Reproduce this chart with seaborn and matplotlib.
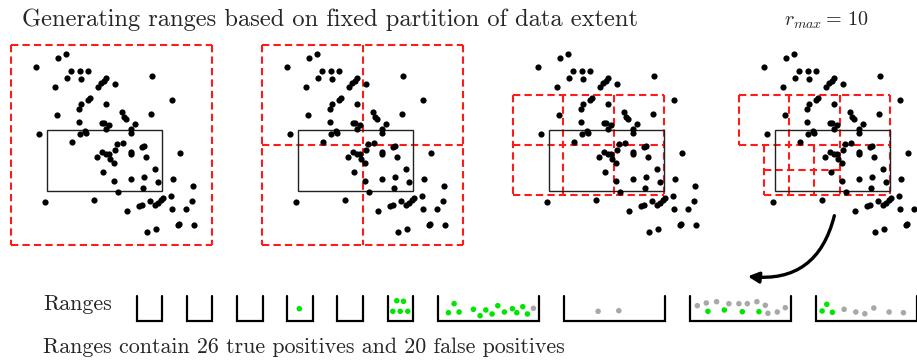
import numpy as np
import pandas as pd
import seaborn as sns
import matplotlib.pyplot as plt
from matplotlib.patches import Rectangle, FancyArrowPatch

sns.set_theme(style="white")
plt.rcParams['mathtext.fontset'] = 'cm'
plt.rcParams['font.family'] = ['cmr10', 'DejaVu Serif']

# point cloud (shared by all four panels), canvas units
PX = [36, 58, 65.7, 71, 80, 87.7, 66.7, 81, 54.7, 97.7, 101, 104, 106, 115, 152.3,
      172.3, 87.7, 90, 81, 78.7, 106.3, 56.7, 121.7, 124.3, 126, 151.3, 79, 101.7,
      104.3, 108.7, 106, 135, 131, 131.3, 80, 85.3, 86, 39.3, 72.3, 117.3, 123,
      141.7, 144, 115, 102, 106, 108.7, 96.7, 109.7, 114.3, 131.3, 131.3, 145.7,
      180, 154.7, 103, 114, 131.3, 143.7, 158, 142.7, 173.3, 193, 118.3, 45, 94.3,
      127, 138.7, 141.7, 150.3, 155, 158, 160.7, 163.3, 171.3, 172.3, 185.7, 192,
      147, 156.3, 177.7, 179, 194.3]
PY = [66.7, 58, 53.7, 71.3, 71.3, 71.3, 78, 78.7, 86.7, 86.7, 83.3, 80.7, 78.3, 84.3,
      75.7, 100, 100.3, 97.7, 103.7, 108.7, 103.7, 115.3, 112, 117.3, 118.7, 114,
      121.7, 122.7, 122.7, 125, 129, 124, 129.3, 132.7, 134.3, 130.7, 132.7, 134,
      141.7, 143.7, 142.7, 146.7, 145.7, 150.3, 152.3, 154, 154, 157, 159, 162.7,
      151.7, 154.3, 157, 152.7, 169, 172.3, 181, 179, 176.7, 182, 187.7, 178.7,
      185.7, 192, 202, 199.7, 210.7, 206.3, 205.3, 201, 205, 202.7, 200.3, 197.7,
      196.3, 208.7, 208.7, 200.7, 231.7, 229.3, 224.7, 223.7, 225]

EXTENT = (11, 212, 45, 245)       # x0, x1, y0, y1 of partitioned extent
QUERY = (47, 161.5, 130, 191)     # query window
PANEL_OFFSETS = [0, 251, 502, 728]
PANEL_LEVELS = [0, 1, 2, None]
MAX_LEVEL = 3
# adaptive cells for r_max = 10: (level, col, row)
ADAPTIVE_CELLS = [(2, 0, 1), (2, 1, 1), (2, 2, 1), (2, 2, 2),
                  (3, 1, 4), (3, 1, 5), (3, 2, 4), (3, 2, 5), (3, 3, 4), (3, 3, 5)]

# ranges (buckets): size in units, contents (bucket, offset in bucket, y, kind)
RANGE_SIZES = [1, 1, 1, 1, 1, 1, 4, 4, 4, 4]
DOT_BUCKET = [3, 5, 5, 5, 5, 5] + [6] * 14 + [7] * 2 + [8] * 15 + [9] * 9
DOT_DX = [12, 9.3, 16, 5.3, 12.7, 20.3,
          16.5, 10.8, 21.5, 35.8, 42.5, 48.2, 54.5, 60.2, 66.8, 74.8, 79.2, 85.2, 89.8, 95.8,
          34.5, 55.2,
          7.7, 16.7, 27, 39.3, 49.3, 57.7, 67.3, 75.7, 78.3, 87.7, 95.7, 18.3, 34.7, 52.7, 69.3,
          11.2, 6.5, 16.8, 28.5, 40.2, 49.2, 58.2, 73.5, 87.8]
DOT_Y = [308.7, 300.7, 301.3, 311.3, 311.3, 311.3,
         303.7, 312.7, 312, 309.3, 315.7, 310, 314, 305.7, 312, 308.7, 312.7, 306.7, 314, 308.3,
         311.3, 310.7,
         305.7, 303, 301.7, 303.7, 303.7, 303.7, 301.7, 305.3, 313.3, 312, 307.7, 311.3, 310, 311.7, 311.7,
         304.3, 311, 312.3, 309.3, 312, 313.7, 308, 312, 312.7]
DOT_KIND = (["true positive"] * 19 + ["false positive"] * 14
            + ["true positive"] * 4 + ["true positive"] * 3 + ["false positive"] * 6)

RED = "#ff1a1a"
fig = plt.figure(figsize=(9.17, 3.6), dpi=100)
ax = fig.add_axes([0, 0, 1, 1])
ax.set_xlim(0, 917)
ax.set_ylim(360, 0)
ax.axis("off")

N = 2 ** MAX_LEVEL
UX = (EXTENT[1] - EXTENT[0]) / N
UY = (EXTENT[3] - EXTENT[2]) / N


def overlapping_cells(level):
    n = 2 ** level
    w, h = (EXTENT[1] - EXTENT[0]) / n, (EXTENT[3] - EXTENT[2]) / n
    out = []
    for c in range(n):
        for r in range(n):
            x, y = EXTENT[0] + c * w, EXTENT[2] + r * h
            if x < QUERY[1] and x + w > QUERY[0] and y < QUERY[3] and y + h > QUERY[2]:
                out.append((level, c, r))
    return out


def merge_runs(idx):
    runs = []
    for i in sorted(idx):
        if runs and runs[-1][1] == i:
            runs[-1][1] = i + 1
        else:
            runs.append([i, i + 1])
    return runs


def cell_edges(cells):
    # unit edges on the finest grid, so shared borders are drawn only once
    hor, ver = set(), set()
    for lev, c, r in cells:
        k = 2 ** (MAX_LEVEL - lev)
        c0, r0 = c * k, r * k
        for i in range(k):
            hor.add((c0 + i, r0))
            hor.add((c0 + i, r0 + k))
            ver.add((c0, r0 + i))
            ver.add((c0 + k, r0 + i))
    lines = []
    for j in range(N + 1):
        lines += [((a, j), (b, j)) for a, b in merge_runs(i for i, jj in hor if jj == j)]
        lines += [((j, a), (j, b)) for a, b in merge_runs(i for jj, i in ver if jj == j)]
    return lines


frames = []
for off, lev in zip(PANEL_OFFSETS, PANEL_LEVELS):
    cells = overlapping_cells(lev) if lev is not None else ADAPTIVE_CELLS
    for (i0, j0), (i1, j1) in cell_edges(cells):
        ax.plot([EXTENT[0] + i0 * UX + off, EXTENT[0] + i1 * UX + off],
                [EXTENT[2] + j0 * UY, EXTENT[2] + j1 * UY],
                color=RED, lw=1.5, ls=(0, (3.5, 2)), dash_capstyle="butt", zorder=2)
    ax.add_patch(Rectangle((QUERY[0] + off, QUERY[2]), QUERY[1] - QUERY[0],
                           QUERY[3] - QUERY[2], fill=False, ec="#222222", lw=1.0, zorder=3))
    frames.append(pd.DataFrame({"x": np.array(PX) + off, "y": PY}))

pts = pd.concat(frames)
sns.scatterplot(data=pts, x="x", y="y", color="black", s=20, linewidth=0, ax=ax, zorder=4)

# range buckets
unit, gap, left0, top, bot = 25.3, 24.8, 137, 296, 321
lefts, x = [], left0
for sz in RANGE_SIZES:
    lefts.append(x)
    w = unit * sz
    ax.plot([x, x, x + w, x + w], [top, bot, bot, top], color="black", lw=1.6,
            solid_joinstyle="miter", zorder=3)
    x += w + gap

dots = pd.DataFrame({"x": [lefts[b] + d for b, d in zip(DOT_BUCKET, DOT_DX)],
                     "y": DOT_Y, "kind": DOT_KIND})
sns.scatterplot(data=dots, x="x", y="y", hue="kind",
                palette={"true positive": "#00e600", "false positive": "#a8a8a8"},
                s=16, linewidth=0, legend=False, ax=ax, zorder=4)

ax.add_patch(FancyArrowPatch((835, 213), (745, 276), connectionstyle="arc3,rad=-0.45",
                             arrowstyle="-|>", mutation_scale=16, lw=2.4, color="black",
                             zorder=5))

ax.text(22, 20, "Generating ranges based on fixed partition of data extent",
        fontsize=17.6, va="center", ha="left")
ax.text(784, 20, r"$r_{max} = \,10$", fontsize=14.5, va="center", ha="left")
ax.text(43, 304, "Ranges", fontsize=15.8, va="center", ha="left")
ax.text(43, 347, "Ranges contain 26 true positives and 20 false positives",
        fontsize=15.8, va="center", ha="left")

fig.savefig("out.png", dpi=100)
